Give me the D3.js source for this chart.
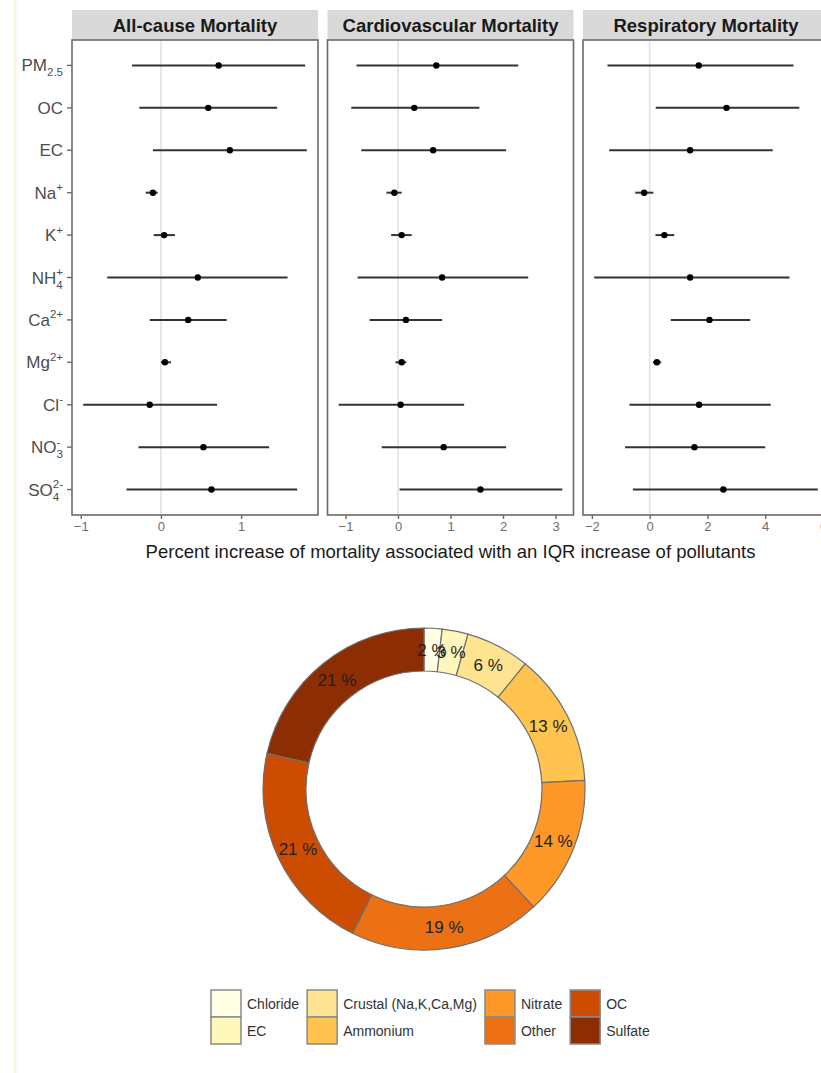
<!DOCTYPE html>
<html>
<head>
<meta charset="utf-8">
<script src="https://cdn.jsdelivr.net/npm/d3@7"></script>
<style>
  body { margin: 0; background: #fff; }
  svg { display: block; font-family: "Liberation Sans", Arial, sans-serif; }
</style>
</head>
<body>
<div id="container"></div>
<script>
'use strict';

//Pollutant labels: base text, subscript, superscript
const pollutantBase = ['PM', 'OC', 'EC', 'Na', 'K', 'NH', 'Ca', 'Mg', 'Cl', 'NO', 'SO'];
const pollutantSub  = ['2.5', '', '', '', '', '4', '', '', '', '3', '4'];
const pollutantSup  = ['', '', '', '+', '+', '+', '2+', '2+', '-', '-', '2-'];

//Facets
const outcomes = ['All-cause Mortality', 'Cardiovascular Mortality', 'Respiratory Mortality'];
const outcomeTicks = [[-1, 0, 1], [-1, 0, 1, 2, 3], [-2, 0, 2, 4, 6]];

//Estimates (%) with 95% CI, same order as pollutantBase
const allEst  = [0.72, 0.59, 0.86, -0.10, 0.04, 0.46, 0.34, 0.05, -0.14, 0.53, 0.63];
const allLow  = [-0.36, -0.27, -0.10, -0.19, -0.09, -0.67, -0.14, 0.00, -0.97, -0.28, -0.43];
const allHigh = [1.80, 1.45, 1.82, -0.04, 0.175, 1.58, 0.82, 0.125, 0.70, 1.35, 1.70];

const cvdEst  = [0.73, 0.31, 0.67, -0.07, 0.07, 0.84, 0.15, 0.07, 0.05, 0.87, 1.57];
const cvdLow  = [-0.79, -0.89, -0.70, -0.22, -0.13, -0.77, -0.54, -0.05, -1.13, -0.31, 0.03];
const cvdHigh = [2.29, 1.55, 2.06, 0.07, 0.26, 2.48, 0.84, 0.16, 1.26, 2.06, 3.13];

const respEst  = [1.70, 2.66, 1.40, -0.19, 0.51, 1.40, 2.07, 0.25, 1.71, 1.55, 2.55];
const respLow  = [-1.46, 0.21, -1.40, -0.50, 0.20, -1.92, 0.73, 0.11, -0.70, -0.85, -0.58];
const respHigh = [4.98, 5.18, 4.26, 0.13, 0.85, 4.84, 3.48, 0.40, 4.19, 4.00, 5.82];

//PM2.5 composition (%)
const componentNames  = ['Chloride', 'EC', 'Crustal (Na,K,Ca,Mg)', 'Ammonium', 'Nitrate', 'Other', 'OC', 'Sulfate'];
const componentShares = [1.8, 2.6, 6.4, 13.3, 13.9, 19.2, 21.2, 21.4];

//Sizing
const VIZ = { WIDTH: 821, HEIGHT: 1073 };
const PANEL = { LEFT: 72, TOP: 40, BOTTOM: 515, WIDTH: 246, GAP: 9.5, STRIP: 30 };
const DONUT = { X: 424, Y: 789, OUTER: 161, INNER: 118 };
const LEGEND = { X: 211, Y: 990, KEY_W: 30, KEY_H: 27, TEXT_GAP: 6, COL_GAP: 8 };

const svg = d3.select('#container')
    .append('svg')
    .attr('width', VIZ.WIDTH)
    .attr('height', VIZ.HEIGHT)
    .attr('viewBox', `0 0 ${VIZ.WIDTH} ${VIZ.HEIGHT}`);

//faint page edge from the original figure
svg.append('line')
    .attr('x1', 15).attr('x2', 15)
    .attr('y1', 0).attr('y2', VIZ.HEIGHT)
    .attr('stroke', '#fdf4e6')
    .attr('stroke-width', 3);

const rows = d3.range(pollutantBase.length);
const y = d3.scalePoint()
    .domain(rows)
    .range([PANEL.TOP, PANEL.BOTTOM])
    .padding(0.6);

const series = [
    { est: allEst, low: allLow, high: allHigh },
    { est: cvdEst, low: cvdLow, high: cvdHigh },
    { est: respEst, low: respLow, high: respHigh },
];

//Forest plot facets
series.forEach((s, i) => drawPanel(s, i));

//Y axis labels (first panel only)
drawPollutantAxis();

//Shared x title
svg.append('text')
    .attr('x', PANEL.LEFT + (3 * PANEL.WIDTH + 2 * PANEL.GAP) / 2)
    .attr('y', 558)
    .attr('text-anchor', 'middle')
    .attr('font-size', 18.5)
    .attr('fill', '#1a1a1a')
    .text('Percent increase of mortality associated with an IQR increase of pollutants');

//Donut
drawDonut();
drawLegend();

function drawPanel(s, i) {
    const left = PANEL.LEFT + i * (PANEL.WIDTH + PANEL.GAP);
    const lo = d3.min(s.low), hi = d3.max(s.high);
    const pad = (hi - lo) * 0.05;
    const x = d3.scaleLinear()
        .domain([lo - pad, hi + pad])
        .range([left, left + PANEL.WIDTH]);

    const g = svg.append('g').attr('class', `panel panel-${i}`);

    //strip
    g.append('rect')
        .attr('x', left)
        .attr('y', PANEL.TOP - PANEL.STRIP)
        .attr('width', PANEL.WIDTH)
        .attr('height', PANEL.STRIP)
        .attr('fill', '#d9d9d9');
    g.append('text')
        .attr('x', left + PANEL.WIDTH / 2)
        .attr('y', PANEL.TOP - 8)
        .attr('text-anchor', 'middle')
        .attr('font-size', 18.5)
        .attr('font-weight', 'bold')
        .attr('fill', '#1a1a1a')
        .text(outcomes[i]);

    //zero reference line
    g.append('line')
        .attr('x1', x(0)).attr('x2', x(0))
        .attr('y1', PANEL.TOP).attr('y2', PANEL.BOTTOM)
        .attr('stroke', '#e2e2e2')
        .attr('stroke-width', 1.6);

    //intervals and points
    g.selectAll('line.ci')
        .data(rows)
        .join('line')
        .attr('class', 'ci')
        .attr('x1', d => x(s.low[d]))
        .attr('x2', d => x(s.high[d]))
        .attr('y1', d => y(d))
        .attr('y2', d => y(d))
        .attr('stroke', '#333')
        .attr('stroke-width', 2);
    g.selectAll('circle')
        .data(rows)
        .join('circle')
        .attr('cx', d => x(s.est[d]))
        .attr('cy', d => y(d))
        .attr('r', 3.2)
        .attr('fill', '#000');

    //panel border
    g.append('rect')
        .attr('x', left)
        .attr('y', PANEL.TOP)
        .attr('width', PANEL.WIDTH)
        .attr('height', PANEL.BOTTOM - PANEL.TOP)
        .attr('fill', 'none')
        .attr('stroke', '#6a6a6a')
        .attr('stroke-width', 1.6);

    //x axis
    const axis = d3.axisBottom(x)
        .tickValues(outcomeTicks[i])
        .tickSize(4)
        .tickPadding(3)
        .tickFormat(d3.format('d'));
    const ax = svg.append('g')
        .attr('transform', `translate(0, ${PANEL.BOTTOM})`)
        .call(axis);
    ax.select('.domain').remove();
    ax.selectAll('line').attr('stroke', '#6a6a6a').attr('stroke-width', 1.4);
    ax.selectAll('text')
        .attr('font-size', 13)
        .attr('font-family', '"Liberation Sans", Arial, sans-serif')
        .attr('fill', '#6e6e6e');
}

function drawPollutantAxis() {
    const g = svg.append('g').attr('class', 'y-axis');
    rows.forEach(i => {
        g.append('line')
            .attr('x1', PANEL.LEFT - 5).attr('x2', PANEL.LEFT)
            .attr('y1', y(i)).attr('y2', y(i))
            .attr('stroke', '#6a6a6a')
            .attr('stroke-width', 1.4);

        const label = g.append('text')
            .attr('x', PANEL.LEFT - 9)
            .attr('y', y(i) + 6)
            .attr('text-anchor', 'end')
            .attr('font-size', 17)
            .attr('fill', '#4d4d4d');
        label.append('tspan').text(pollutantBase[i]);

        const sub = pollutantSub[i], sup = pollutantSup[i];
        if (sub) {
            const subSpan = label.append('tspan')
                .attr('font-size', 11.5)
                .attr('dy', 5)
                .text(sub);
            if (sup) {
                const w = subSpan.node().getComputedTextLength();
                label.append('tspan')
                    .attr('font-size', 11.5)
                    .attr('dx', -w)
                    .attr('dy', -12.5)
                    .text(sup);
            }
        } else if (sup) {
            label.append('tspan')
                .attr('font-size', 11.5)
                .attr('dy', -7.5)
                .text(sup);
        }
    });
}

function drawDonut() {
    const color = d3.scaleOrdinal()
        .domain(componentNames)
        .range(d3.schemeYlOrBr[8]);
    const pie = d3.pie().sort(null).value(d => d.share);
    const data = pie(componentNames.map((name, i) => ({ name, share: componentShares[i] })));
    const arc = d3.arc().innerRadius(DONUT.INNER).outerRadius(DONUT.OUTER);
    const total = d3.sum(componentShares);

    const g = svg.append('g')
        .attr('transform', `translate(${DONUT.X}, ${DONUT.Y})`);
    g.selectAll('path')
        .data(data)
        .join('path')
        .attr('d', arc)
        .attr('fill', d => color(d.data.name))
        .attr('stroke', '#6f6f6f')
        .attr('stroke-width', 1.2);
    g.selectAll('text')
        .data(data)
        .join('text')
        .attr('transform', d => `translate(${arc.centroid(d)})`)
        .attr('dy', '0.36em')
        .attr('text-anchor', 'middle')
        .attr('font-size', 17)
        .attr('fill', '#1f1f1f')
        .text(d => `${Math.round(d.data.share / total * 100)} %`);
}

function drawLegend() {
    const color = d3.schemeYlOrBr[8];
    const g = svg.append('g').attr('class', 'legend');
    let colX = LEGEND.X;
    for (let c = 0; c < componentNames.length / 2; c++) {
        let maxW = 0;
        for (let r = 0; r < 2; r++) {
            const idx = c * 2 + r;
            const top = LEGEND.Y + r * LEGEND.KEY_H;
            g.append('rect')
                .attr('x', colX)
                .attr('y', top)
                .attr('width', LEGEND.KEY_W)
                .attr('height', LEGEND.KEY_H)
                .attr('fill', color[idx])
                .attr('stroke', '#8a8a8a')
                .attr('stroke-width', 1.5);
            const t = g.append('text')
                .attr('x', colX + LEGEND.KEY_W + LEGEND.TEXT_GAP)
                .attr('y', top + LEGEND.KEY_H / 2 + 5)
                .attr('font-size', 14)
                .attr('fill', '#333')
                .text(componentNames[idx]);
            maxW = Math.max(maxW, t.node().getComputedTextLength());
        }
        colX += LEGEND.KEY_W + LEGEND.TEXT_GAP + maxW + LEGEND.COL_GAP;
    }
}
</script>
</body>
</html>
